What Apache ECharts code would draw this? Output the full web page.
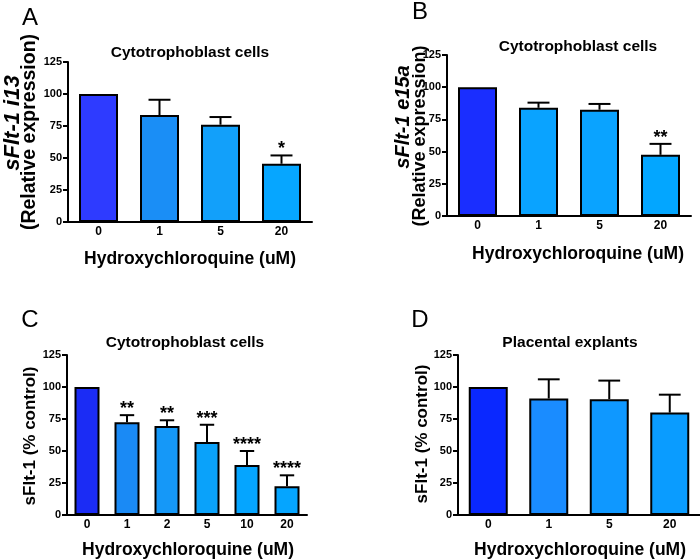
<!DOCTYPE html>
<html><head><meta charset="utf-8">
<script src="https://cdn.jsdelivr.net/npm/echarts@6/dist/echarts.min.js"></script>
<style>html,body{margin:0;padding:0;background:#fff}#c{width:700px;height:560px}</style>
</head><body><div id="c"></div>
<script>
// ---- Data ----
const catsA = ['0', '1', '5', '20'];
const meanA = [100, 83.5, 76, 45.5];
const errA = [0, 12, 6, 6.5];
const sigA = ['', '', '', '*'];

const catsB = ['0', '1', '5', '20'];
const meanB = [100, 84, 82.5, 47.5];
const errB = [0, 4, 4.5, 8.5];
const sigB = ['', '', '', '**'];

const catsC = ['0', '1', '2', '5', '10', '20'];
const meanC = [100, 72.5, 69.5, 57, 39, 22.5];
const errC = [0, 5.5, 4.5, 13.5, 11, 8.5];
const sigC = ['', '**', '**', '***', '****', '****'];

const catsD = ['0', '1', '5', '20'];
const meanD = [100, 91, 90.5, 80];
const errD = [0, 15, 14.5, 14];
const sigD = ['', '', '', ''];

const yTicks = [0, 25, 50, 75, 100, 125];

// ---- Styles ----
const colA = ['#2e3bff', '#1a8ef6', '#12a0fa', '#06a6ff'];
const colB = ['#1a2eff', '#0aa3ff', '#0aa3ff', '#03a6ff'];
const colC = ['#1b2cf5', '#1a8af5', '#1598f8', '#0aa2fa', '#05a5ff', '#05a5ff'];
const colD = ['#0a28ff', '#1a8cff', '#0f98ff', '#0a9cff'];
const FF = '"Liberation Sans", Arial, Helvetica, sans-serif';

const chart = echarts.init(document.getElementById('c'), null, {renderer: 'canvas'});

const grids = [
  {left: 68, top: 62, width: 244, height: 160},
  {left: 447, top: 55, width: 244, height: 161},
  {left: 67, top: 355, width: 240, height: 160},
  {left: 458, top: 355, width: 244, height: 160}
];
const cats = [catsA, catsB, catsC, catsD];
const means = [meanA, meanB, meanC, meanD];
const errs = [errA, errB, errC, errD];
const sigs = [sigA, sigB, sigC, sigD];
const cols = [colA, colB, colC, colD];
const barW = [39, 39, 25, 39];

const xAxes = cats.map((c, g) => ({
  type: 'category', gridIndex: g, data: c,
  axisLine: {lineStyle: {color: '#000', width: 2}},
  axisTick: {show: false},
  axisLabel: {color: '#000', fontSize: 12, fontWeight: 'bold', fontFamily: FF, margin: 4}
}));
const yAxes = cats.map((c, g) => ({
  type: 'value', gridIndex: g, min: yTicks[0], max: yTicks[yTicks.length - 1], interval: yTicks[1] - yTicks[0],
  axisLine: {show: true, lineStyle: {color: '#000', width: 2}},
  axisTick: {show: true, length: 5, lineStyle: {color: '#000', width: 2}},
  axisLabel: {color: '#000', fontSize: 11, fontWeight: 'bold', fontFamily: FF, margin: 6},
  splitLine: {show: false}
}));

function makeErr(sig) {
  return function (params, api) {
    const i = api.value(0), m = api.value(1), e = api.value(2);
    const base = api.coord([i, m]);
    const top = api.coord([i, m + e]);
    const bw = api.size([1, 0])[0];
    const cap = bw * 0.18;
    const ch = [];
    if (e > 0) {
      ch.push({type: 'line', shape: {x1: base[0], y1: base[1], x2: top[0], y2: top[1]}, style: {stroke: '#000', lineWidth: 2}});
      ch.push({type: 'line', shape: {x1: top[0] - cap, y1: top[1], x2: top[0] + cap, y2: top[1]}, style: {stroke: '#000', lineWidth: 2}});
    }
    const s = sig[params.dataIndex];
    if (s) {
      ch.push({type: 'text', x: top[0], y: top[1] + 3, style: {text: s, align: 'center', verticalAlign: 'bottom', fontSize: 18, fontWeight: 'bold', fontFamily: FF, fill: '#000'}});
    }
    return {type: 'group', children: ch};
  };
}

const series = [];
means.forEach((m, g) => {
  series.push({
    type: 'bar', xAxisIndex: g, yAxisIndex: g, barWidth: barW[g],
    data: m.map((v, i) => ({value: v, itemStyle: {color: cols[g][i]}})),
    itemStyle: {borderColor: '#000', borderWidth: 2},
    silent: true
  });
});
means.forEach((m, g) => {
  series.push({
    type: 'custom', xAxisIndex: g, yAxisIndex: g, clip: false,
    data: m.map((v, i) => [i, v, errs[g][i]]),
    encode: {x: 0, y: 1},
    renderItem: makeErr(sigs[g]),
    silent: true, z: 5
  });
});

function txt(x, y, text, size, weight) {
  return {
    type: 'text', x: x, y: y,
    style: {text: text, align: 'center', verticalAlign: 'middle', fontSize: size, fontWeight: weight, fontFamily: FF, fill: '#000'}
  };
}
function vtxt(x, y, text, size, style) {
  return {
    type: 'text', x: x, y: y, rotation: Math.PI / 2,
    style: {text: text, align: 'center', verticalAlign: 'middle', fontSize: size, fontWeight: 'bold', fontStyle: style || 'normal', fontFamily: FF, fill: '#000'}
  };
}

const graphic = [
  // panel letters
  txt(30, 18, 'A', 24, 'normal'),
  txt(420, 12, 'B', 24, 'normal'),
  txt(30, 320, 'C', 24, 'normal'),
  txt(420, 320, 'D', 24, 'normal'),
  // titles
  txt(190, 53, 'Cytotrophoblast cells', 15.5, 'bold'),
  txt(578, 47, 'Cytotrophoblast cells', 15.5, 'bold'),
  txt(185, 343, 'Cytotrophoblast cells', 15.5, 'bold'),
  txt(570, 343, 'Placental explants', 15.5, 'bold'),
  // x titles
  txt(190, 259, 'Hydroxychloroquine (uM)', 17.5, 'bold'),
  txt(578, 254, 'Hydroxychloroquine (uM)', 17.5, 'bold'),
  txt(188, 550, 'Hydroxychloroquine (uM)', 17.5, 'bold'),
  txt(580, 550, 'Hydroxychloroquine (uM)', 17.5, 'bold'),
  // y titles
  vtxt(13, 123, 'sFlt-1 i13', 22, 'italic'),
  vtxt(30, 132, '(Relative expression)', 19.5),
  vtxt(403, 117, 'sFlt-1 e15a', 20, 'italic'),
  vtxt(420, 136, '(Relative expression)', 18),
  vtxt(30, 436, 'sFlt-1 (% control)', 17),
  vtxt(422, 434, 'sFlt-1 (% control)', 17)
];

chart.setOption({
  animation: false,
  backgroundColor: '#fff',
  grid: grids,
  xAxis: xAxes,
  yAxis: yAxes,
  series: series,
  graphic: graphic
});
</script>
</body></html>
